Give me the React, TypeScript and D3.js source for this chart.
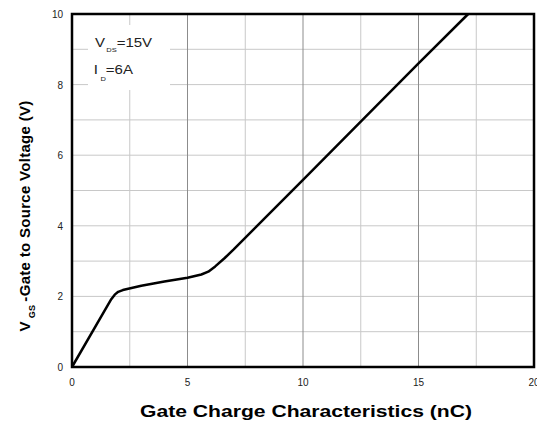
import React from "react";
import * as d3 from "d3";

// gate charge (nC) vs VGS (V)
const charge = [0, 1.7, 1.85, 2.0, 2.2, 3, 4, 5, 5.6, 5.9, 6.2, 6.6, 7, 10, 15, 17.15];
const vgs = [0, 1.92, 2.05, 2.13, 2.18, 2.3, 2.42, 2.53, 2.62, 2.7, 2.85, 3.08, 3.33, 5.3, 8.6, 10];
const xTicks = [0, 5, 10, 15, 20];
const yTicks = [0, 2, 4, 6, 8, 10];
const xGrid = [2.5, 5, 7.5, 10, 12.5, 15, 17.5];
const yGrid = [1, 2, 3, 4, 5, 6, 7, 8, 9];

const W = 537;
const H = 423;
const m = { left: 72, right: 534, top: 14, bottom: 367 };
const font = "'Liberation Sans', Arial, sans-serif";

export default function App() {
  const x = d3.scaleLinear().domain([0, 20]).range([m.left, m.right]);
  const y = d3.scaleLinear().domain([0, 10]).range([m.bottom, m.top]);
  const pts: [number, number][] = charge.map((c, i) => [c, vgs[i]]);
  const line = d3
    .line<[number, number]>()
    .x((d) => x(d[0]))
    .y((d) => y(d[1]))
    .curve(d3.curveLinear);

  return (
    <svg
      width={W}
      height={H}
      style={{ position: "absolute", left: 0, top: 0, fontFamily: font }}
    >
      <rect width={W} height={H} fill="#fff" />
      {/* grid */}
      {yGrid.map((v) => (
        <line key={"y" + v} x1={m.left} x2={m.right} y1={y(v)} y2={y(v)} stroke="#c8c8c8" strokeWidth={1} />
      ))}
      {xGrid.map((v) => (
        <line
          key={"x" + v}
          x1={x(v)}
          x2={x(v)}
          y1={m.top}
          y2={m.bottom}
          stroke={v % 5 === 0 ? "#8c8c8c" : "#c8c8c8"}
          strokeWidth={1}
        />
      ))}
      {/* legend box */}
      <rect x={88} y={25} width={82} height={65} fill="#fff" />
      <g transform="translate(95,47) scale(1.25,1)">
        <text x={0} y={0} fontSize={12} fill="#222">
          V<tspan fontSize={6} dy={5} dx={1}>DS</tspan>
          <tspan dy={-5} fontSize={12}>=15V</tspan>
        </text>
        <text x={-1} y={27} fontSize={12} fill="#222">
          I<tspan fontSize={6} dy={7} dx={2}>D</tspan>
          <tspan dy={-7} fontSize={12}>=6A</tspan>
        </text>
      </g>
      {/* curve */}
      <path d={line(pts) ?? ""} fill="none" stroke="#000" strokeWidth={2.5} strokeLinejoin="round" />
      {/* frame */}
      <rect
        x={m.left}
        y={m.top}
        width={m.right - m.left}
        height={m.bottom - m.top}
        fill="none"
        stroke="#000"
        strokeWidth={2.5}
      />
      {/* ticks */}
      {yTicks.map((v) => (
        <text key={"yt" + v} x={63} y={y(v) + 4} fontSize={10} textAnchor="end" fill="#222">
          {v}
        </text>
      ))}
      {xTicks.map((v) => (
        <text key={"xt" + v} x={x(v)} y={386} fontSize={10} textAnchor="middle" fill="#222">
          {v}
        </text>
      ))}
      {/* titles */}
      <text
        x={140}
        y={417}
        fontSize={16}
        fontWeight="bold"
        textLength={332}
        lengthAdjust="spacingAndGlyphs"
      >
        Gate Charge Characteristics (nC)
      </text>
      <text
        transform="translate(30,216) rotate(-90)"
        fontSize={15}
        fontWeight="bold"
        textAnchor="middle"
        letterSpacing={0.3}
      >
        V<tspan fontSize={9} dy={5} dx={3}>GS</tspan>
        <tspan dy={-5} dx={3}>-Gate to Source Voltage (V)</tspan>
      </text>
    </svg>
  );
}
